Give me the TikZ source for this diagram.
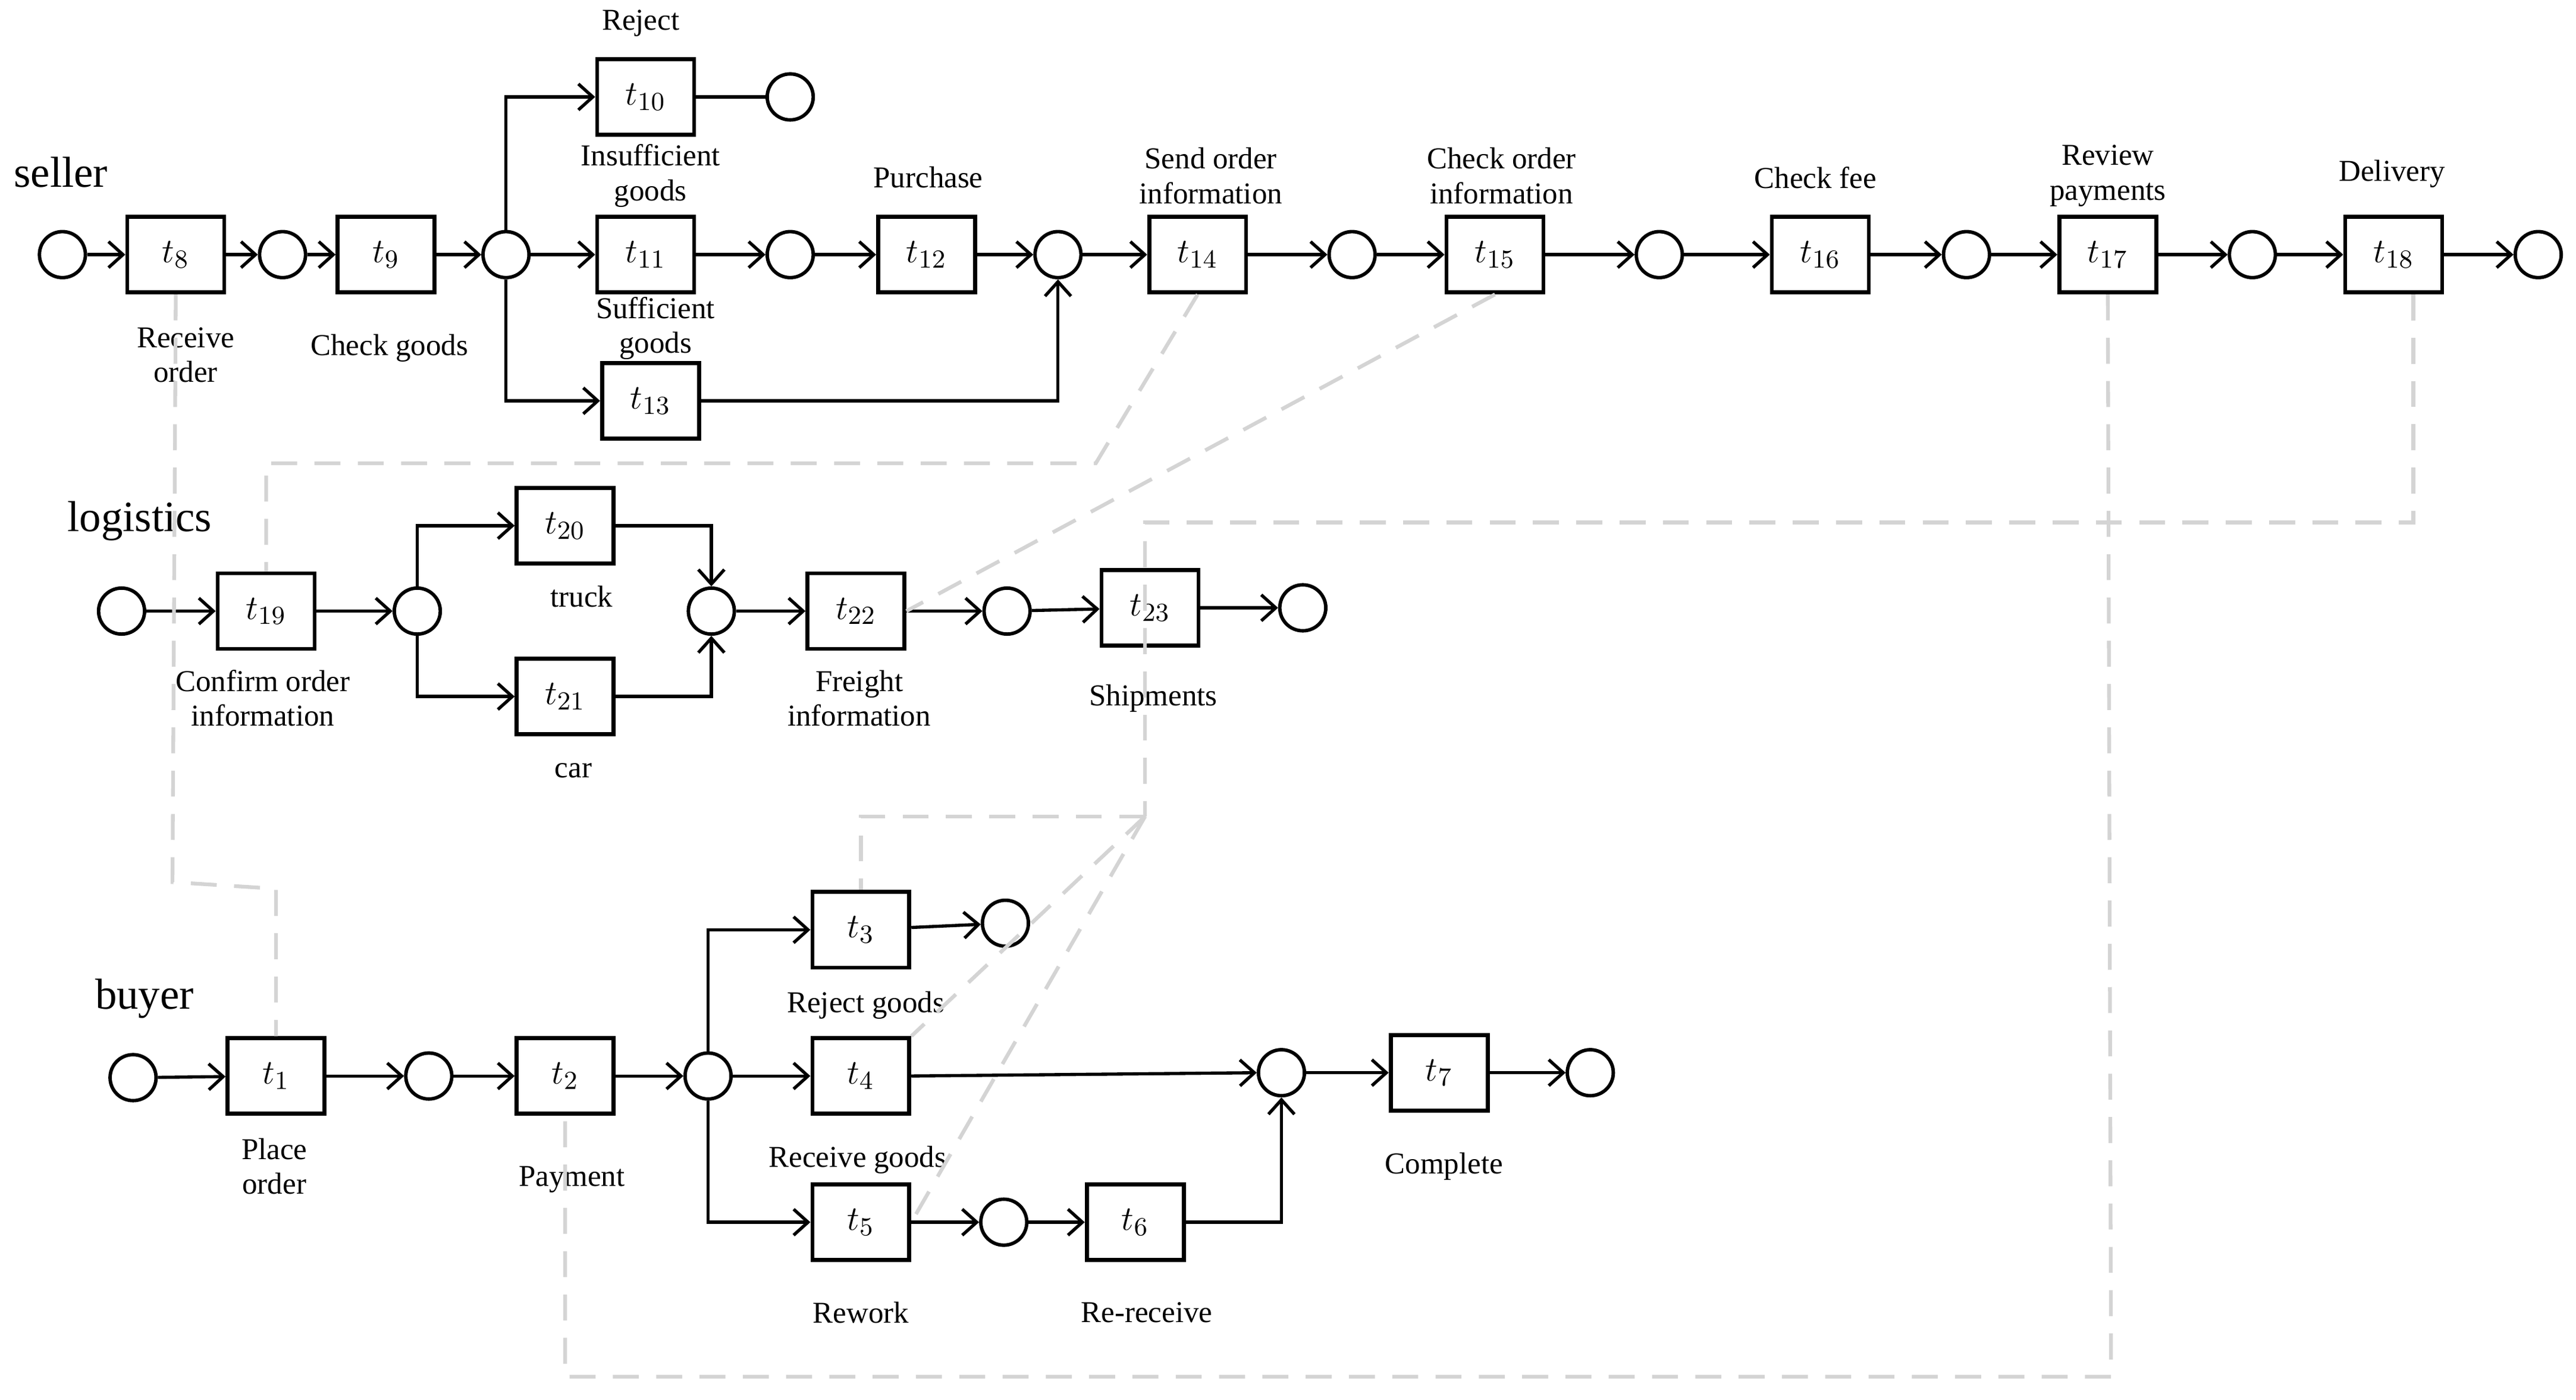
\documentclass[tikz,border=0pt]{standalone}
\usepackage{fontspec}
\setmainfont{Liberation Serif}
\usetikzlibrary{arrows.meta}
\begin{document}
\begin{tikzpicture}[x=0.02cm,y=-0.02cm,
  pl/.style={circle,draw,line width=1.2pt,minimum size=0.56cm,inner sep=0},
  tr/.style={draw,line width=1.4pt,minimum width=1.18cm,minimum height=0.92cm,inner sep=0,font=\fontsize{13}{13}\selectfont},
  arc/.style={line width=1.1pt,-{Straight Barb[length=5pt,width=9pt,line width=1.1pt]}},
  ln/.style={line width=1.1pt},
  dsh/.style={draw=black!17,line width=1.3pt,dash pattern=on 9pt off 6pt},
  lb/.style={font=\fontsize{10.5}{12}\selectfont,align=center},
  row/.style={font=\fontsize{15}{15}\selectfont}]
\useasboundingbox (0,0) rectangle (1568,852);
% seller
\node[row] (seller) at (37,105) {seller};
\node[pl] (s0) at (38,155) {};
\node[tr] (t8) at (107,155) {$t_{8}$};
\node[pl] (s1) at (172,155) {};
\node[tr] (t9) at (235,155) {$t_{9}$};
\node[pl] (s2) at (308,155) {};
\node[tr] (t10) at (393,59) {$t_{10}$};
\node[pl] (s3) at (481,59) {};
\node[tr] (t11) at (393,155) {$t_{11}$};
\node[tr] (t13) at (396,244) {$t_{13}$};
\node[pl] (s4) at (481,155) {};
\node[tr] (t12) at (564,155) {$t_{12}$};
\node[pl] (s5) at (644,155) {};
\node[tr] (t14) at (729,155) {$t_{14}$};
\node[pl] (s6) at (823,155) {};
\node[tr] (t15) at (910,155) {$t_{15}$};
\node[pl] (s7) at (1010,155) {};
\node[tr] (t16) at (1108,155) {$t_{16}$};
\node[pl] (s8) at (1197,155) {};
\node[tr] (t17) at (1283,155) {$t_{17}$};
\node[pl] (s9) at (1371,155) {};
\node[tr] (t18) at (1457,155) {$t_{18}$};
\node[pl] (s10) at (1545,155) {};
\draw[arc] (s0)--(t8); \draw[arc] (t8)--(s1); \draw[arc] (s1)--(t9); \draw[arc] (t9)--(s2);
\draw[arc] (s2)--(t11); \draw[arc] (t11)--(s4); \draw[arc] (s4)--(t12); \draw[arc] (t12)--(s5);
\draw[arc] (s5)--(t14); \draw[arc] (t14)--(s6); \draw[arc] (s6)--(t15); \draw[arc] (t15)--(s7);
\draw[arc] (s7)--(t16); \draw[arc] (t16)--(s8); \draw[arc] (s8)--(t17); \draw[arc] (t17)--(s9);
\draw[arc] (s9)--(t18); \draw[arc] (t18)--(s10);
\draw[ln] (t10)--(s3);
\draw[arc] (s2.north) |- (t10.west);
\draw[arc] (s2.south) |- (t13.west);
\draw[arc] (t13.east) -| (s5.south);
\node[lb] (l10) at (390,14) {Reject};
\node[lb] (l11) at (396,107) {Insufficient\\goods};
\node[lb] (l13) at (399,200) {Sufficient\\goods};
\node[lb] (l12) at (565,108) {Purchase};
\node[lb] (l14) at (737,107) {Send order\\information};
\node[lb] (l15) at (914,107) {Check order\\information};
\node[lb] (l16) at (1105,108) {Check fee};
\node[lb] (l17) at (1283,107) {Review\\payments};
\node[lb] (l18) at (1456,106) {Delivery};
\node[lb] (l8) at (113,216) {Receive\\order};
\node[lb] (l9) at (237,212) {Check goods};
% logistics
\node[row] (logi) at (85,317) {logistics};
\node[pl] (q0) at (74,372) {};
\node[tr] (t19) at (162,372) {$t_{19}$};
\node[pl] (q1) at (254,372) {};
\node[tr] (t20) at (344,320) {$t_{20}$};
\node[tr] (t21) at (344,424) {$t_{21}$};
\node[pl] (q2) at (433,372) {};
\node[tr] (t22) at (521,372) {$t_{22}$};
\node[pl] (q3) at (613,372) {};
\node[tr] (t23) at (700,370) {$t_{23}$};
\node[pl] (q4) at (793,370) {};
\draw[arc] (q0)--(t19); \draw[arc] (t19)--(q1);
\draw[arc] (q1.north) |- (t20.west);
\draw[arc] (q1.south) |- (t21.west);
\draw[arc] (t20.east) -| (q2.north);
\draw[arc] (t21.east) -| (q2.south);
\draw[arc] (q2)--(t22); \draw[arc] (t22)--(q3); \draw[arc] (q3)--(t23); \draw[arc] (t23)--(q4);
\node[lb] (l20) at (354,363) {truck};
\node[lb] (l21) at (349,469) {car};
\node[lb] (l19) at (160,425) {Confirm order\\information};
\node[lb] (l22) at (523,425) {Freight\\information};
\node[lb] (l23) at (702,425) {Shipments};
% buyer
\node[row] (buyer) at (88,608) {buyer};
\node[pl] (b0) at (81,656) {};
\node[tr] (t1) at (168,655) {$t_{1}$};
\node[pl] (b1) at (261,655) {};
\node[tr] (t2) at (344,655) {$t_{2}$};
\node[pl] (b2) at (431,655) {};
\node[tr] (t3) at (524,566) {$t_{3}$};
\node[pl] (b3) at (612,562) {};
\node[tr] (t4) at (524,655) {$t_{4}$};
\node[tr] (t5) at (524,744) {$t_{5}$};
\node[pl] (b4) at (611,744) {};
\node[tr] (t6) at (691,744) {$t_{6}$};
\node[pl] (b5) at (780,653) {};
\node[tr] (t7) at (876,653) {$t_{7}$};
\node[pl] (b6) at (968,653) {};
\draw[arc] (b0)--(t1); \draw[arc] (t1)--(b1); \draw[arc] (b1)--(t2); \draw[arc] (t2)--(b2);
\draw[arc] (b2)--(t4); \draw[arc] (t3)--(b3); \draw[arc] (t4.east)--(b5.west);
\draw[arc] (b2.north) |- (t3.west);
\draw[arc] (b2.south) |- (t5.west);
\draw[arc] (t5)--(b4); \draw[arc] (b4)--(t6);
\draw[arc] (t6.east) -| (b5.south);
\draw[arc] (b5)--(t7); \draw[arc] (t7)--(b6);
\node[lb] (l1) at (167,710) {Place\\order};
\node[lb] (l2) at (348,718) {Payment};
\node[lb] (l3) at (527,612) {Reject goods};
\node[lb] (l4) at (522,706) {Receive goods};
\node[lb] (l7) at (879,710) {Complete};
\node[lb] (l5) at (524,799) {Rework};
\node[lb] (l6) at (698,799) {Re-receive};
% dashed links
\coordinate (j1) at (697,497);
\draw[dsh] (t14.south) -- (667,282) -| (t19.north);
\draw[dsh] (t15.south) -- (t22.east);
\draw[dsh] (t18.south -| 1469,0) |- (697,318) -- (j1);
\draw[dsh] (j1) -| (t3.north);
\draw[dsh] (j1) -- (t4.north east);
\draw[dsh] (j1) -- (t5.east);
\draw[dsh] (t8.south) -- (105,537) -- (168,541) -- (t1.north);
\draw[dsh] (t17.south) -- (1285,838) -| (t2.south);
\end{tikzpicture}
\end{document}
